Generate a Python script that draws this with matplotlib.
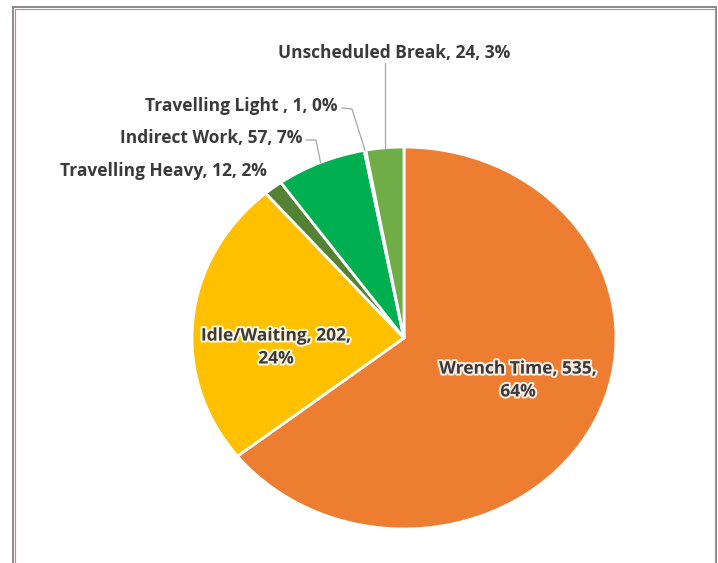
import matplotlib
matplotlib.use("Agg")
import matplotlib.pyplot as plt
import matplotlib.patheffects as pe
from matplotlib.patches import Rectangle
import numpy as np

categories = ["Wrench Time", "Idle/Waiting", "Travelling Heavy", "Indirect Work",
              "Travelling Light ", "Unscheduled Break"]
values = [535, 202, 12, 57, 1, 24]
pct_labels = ["64%", "24%", "2%", "7%", "0%", "3%"]
colors = ["#ED7D31", "#FFC000", "#548235", "#00B050", "#A9D18E", "#70AD47"]

W, H = 718, 563
fig = plt.figure(figsize=(W / 100, H / 100), dpi=100)
fig.patch.set_facecolor("white")

# pie geometry in pixels (the reference pie is slightly elliptical)
cx, cy, rx, ry = 404, 338, 212, 191
ax = fig.add_axes([0, 0, 1, 1])
wedges, _ = ax.pie(values, colors=colors, startangle=90, counterclock=False,
                   wedgeprops=dict(edgecolor="white", linewidth=2))
ax.set_aspect("auto")
ax.set_xlim(-cx / rx, (W - cx) / rx)
ax.set_ylim((cy - H) / ry, cy / ry)
ax.axis("off")


def px(x, y):
    """pixel (from top-left) -> data coords"""
    return (x - cx) / rx, (cy - y) / ry


def edge_point(i):
    w = wedges[i]
    a = np.deg2rad((w.theta1 + w.theta2) / 2)
    return np.cos(a), np.sin(a)


txt_color = "#3a3a3a"
font = dict(family=["Open Sans", "DejaVu Sans"], fontweight="bold", fontsize=12.5, color=txt_color)
glow = [pe.withStroke(linewidth=3, foreground="white", alpha=0.85)]

# inside labels
ax.text(*px(518, 380), f"{categories[0]}, {values[0]},\n{pct_labels[0]}", ha="center",
        va="center", linespacing=1.35, path_effects=glow, **font)
ax.text(*px(276, 347), f"{categories[1]}, {values[1]},\n{pct_labels[1]}", ha="center",
        va="center", linespacing=1.35, path_effects=glow, **font)

# outside labels
lead = dict(color="#A6A6A6", lw=0.9, clip_on=False)
# Travelling Heavy
ax.text(*px(267, 171), f"{categories[2]}, {values[2]}, {pct_labels[2]}", ha="right", va="center", **font)
# Indirect Work
ax.text(*px(302, 138), f"{categories[3]}, {values[3]}, {pct_labels[3]}", ha="right", va="center", **font)
ex, ey = edge_point(3)
p1, p2 = px(306, 140), px(316, 140)
ax.plot([p1[0], p2[0], ex], [p1[1], p2[1], ey], **lead)
# Travelling Light
ax.text(*px(338, 106), f"{categories[4]}, {values[4]}, {pct_labels[4]}", ha="right", va="center", **font)
ex, ey = edge_point(4)
p1, p2 = px(342, 108), px(352, 109)
ax.plot([p1[0], p2[0], ex], [p1[1], p2[1], ey], **lead)
# Unscheduled Break
ax.text(*px(394, 53), f"{categories[5]}, {values[5]}, {pct_labels[5]}", ha="center", va="center", **font)
ex, ey = edge_point(5)
p1 = px(ex * rx + cx, 63)
ax.plot([p1[0], ex], [p1[1], ey], **lead)

# frame
fig.patches.append(Rectangle((13 / W, -0.02), (716 - 13) / W, 1 - 7 / H + 0.02,
                             transform=fig.transFigure, fill=False,
                             edgecolor="#808080", linewidth=1.3))
fig.patches.append(Rectangle((14.5 / W, -0.02), (714.5 - 14.5) / W, 1 - 8.5 / H + 0.02,
                             transform=fig.transFigure, fill=False,
                             edgecolor="#E57373", linewidth=0.8))

fig.savefig("out.png", dpi=100, facecolor="white")
